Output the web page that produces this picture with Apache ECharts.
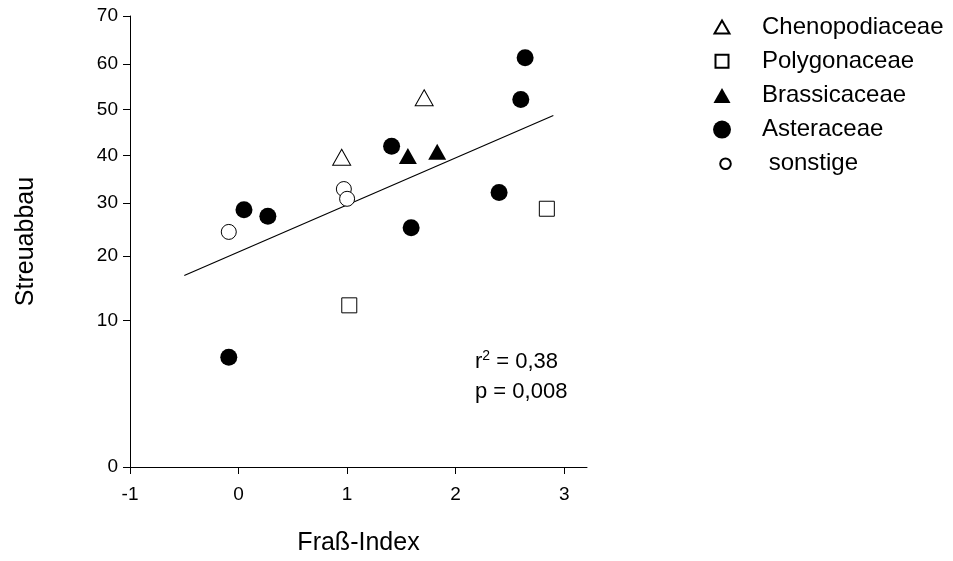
<!DOCTYPE html>
<html>
<head>
<meta charset="utf-8">
<script src="https://cdn.jsdelivr.net/npm/echarts@6/dist/echarts.min.js"></script>
<style>
html,body{margin:0;padding:0;background:#fff;}
#chart{width:953px;height:561px;}
</style>
</head>
<body>
<div id="chart"></div>
<script>
// ---- data (Streuabbau in %, plotted on arcsine-square-root scale) ----
const chenoX = [0.95, 1.71];
const chenoY = [39.6, 52.6];
const polyX = [1.02, 2.84];
const polyY = [12.1, 28.9];
const brassX = [1.56, 1.83];
const brassY = [39.9, 40.8];
const asterX = [-0.09, 0.05, 0.27, 1.41, 1.59, 2.40, 2.60, 2.64];
const asterY = [5.7, 28.7, 27.4, 42.0, 25.2, 32.2, 52.2, 61.3];
const sonstX = [-0.09, 0.97, 1.00];
const sonstY = [24.4, 32.9, 30.9];
const fitX = [-0.5, 2.9];
const fitY = [16.7, 48.7];
const xTicks = [-1, 0, 1, 2, 3];
const yTicks = [0, 10, 20, 30, 40, 50, 60, 70];
const seriesNames = ['Chenopodiaceae', 'Polygonaceae', 'Brassicaceae', 'Asteraceae', 'sonstige'];
const xLabel = 'Fraß-Index';
const yLabel = 'Streuabbau';

// arcsine square-root transform of percentage
const T = p => Math.asin(Math.sqrt(p / 100));
const invT = v => 100 * Math.pow(Math.sin(v), 2);
const pairs = (xs, ys) => xs.map((x, i) => [x, T(ys[i])]);

const font = 'Liberation Sans, Arial, sans-serif';
const openStyle = {color: '#fff', borderColor: '#000', borderWidth: 1, opacity: 1};
const fillStyle = {color: '#000', borderColor: '#000', borderWidth: 0, opacity: 1};

// legend icons (18x18 box, smaller glyphs padded inside)
const box = 'M0,0M18,18';
const legendIcons = [
  'path://' + box + 'M1.5,15.5L9,2.5L16.5,15.5Z',
  'path://' + box + 'M2.5,2.5L15.5,2.5L15.5,15.5L2.5,15.5Z',
  'path://' + box + 'M0.5,16.5L9,1.5L17.5,16.5Z',
  'circle',
  'path://' + box + 'M7.2,9A5.3,5.3,0,1,1,17.8,9A5.3,5.3,0,1,1,7.2,9Z'
];

const chart = echarts.init(document.getElementById('chart'), null, {renderer: 'canvas'});
chart.setOption({
  animation: false,
  backgroundColor: '#fff',
  grid: {left: 130, right: 366, top: 16, bottom: 91, containLabel: false},
  xAxis: {
    type: 'value', min: -1, max: 3.21, interval: 1,
    name: xLabel, nameLocation: 'middle', nameGap: 64,
    nameTextStyle: {fontFamily: font, fontSize: 25, color: '#000'},
    axisLine: {show: true, onZero: false, lineStyle: {color: '#000', width: 1}},
    axisTick: {show: true, inside: false, length: 7, lineStyle: {color: '#000'}, customValues: xTicks},
    axisLabel: {fontFamily: font, fontSize: 19, color: '#000', margin: 18, customValues: xTicks},
    splitLine: {show: false}
  },
  yAxis: {
    type: 'value', min: 0, max: T(70),
    name: yLabel, nameLocation: 'middle', nameGap: 91, nameRotate: 90,
    nameTextStyle: {fontFamily: font, fontSize: 25, color: '#000'},
    axisLine: {show: true, onZero: false, lineStyle: {color: '#000', width: 1}},
    axisTick: {show: true, inside: false, length: 7, lineStyle: {color: '#000'}, customValues: yTicks.map(T)},
    axisLabel: {fontFamily: font, fontSize: 19, color: '#000', margin: 12, customValues: yTicks.map(T),
      formatter: v => String(Math.round(invT(v)))},
    splitLine: {show: false}
  },
  legend: {
    orient: 'vertical', left: 707, top: 10,
    itemWidth: 18, itemHeight: 18, itemGap: 10.2,
    data: seriesNames.map((n, i) => ({name: n, icon: legendIcons[i]})),
    formatter: n => (n === 'sonstige' ? ' ' + n : n),
    textStyle: {fontFamily: font, fontSize: 24, color: '#000', lineHeight: 24, padding: [0, 0, 0, 26]},
    selectedMode: false
  },
  graphic: [
    {type: 'text', left: 475, top: 349, style: {
      text: '{a|r}{s|2}{a| = 0,38}',
      rich: {a: {fontFamily: font, fontSize: 22, fill: '#000', verticalAlign: 'bottom'},
             s: {fontFamily: font, fontSize: 14, fill: '#000', verticalAlign: 'top', padding: [0, 0, 10, 0]}}
    }},
    {type: 'text', left: 475, top: 381, style: {text: 'p = 0,008', fontFamily: font, fontSize: 22, fill: '#000'}}
  ],
  series: [
    {type: 'line', data: pairs(fitX, fitY), showSymbol: false, symbol: 'none', silent: true,
     lineStyle: {color: '#000', width: 1.2}, z: 1},
    {name: seriesNames[0], type: 'scatter', symbol: 'triangle', symbolSize: [18, 16],
     data: pairs(chenoX, chenoY), itemStyle: openStyle, z: 3},
    {name: seriesNames[1], type: 'scatter', symbol: 'rect', symbolSize: 15,
     data: pairs(polyX, polyY), itemStyle: openStyle, z: 3},
    {name: seriesNames[2], type: 'scatter', symbol: 'triangle', symbolSize: [18, 16],
     data: pairs(brassX, brassY), itemStyle: fillStyle, z: 3},
    {name: seriesNames[3], type: 'scatter', symbol: 'circle', symbolSize: 17,
     data: pairs(asterX, asterY), itemStyle: fillStyle, z: 3},
    {name: seriesNames[4], type: 'scatter', symbol: 'circle', symbolSize: 15,
     data: pairs(sonstX, sonstY), itemStyle: openStyle, z: 3}
  ]
});
</script>
</body>
</html>
